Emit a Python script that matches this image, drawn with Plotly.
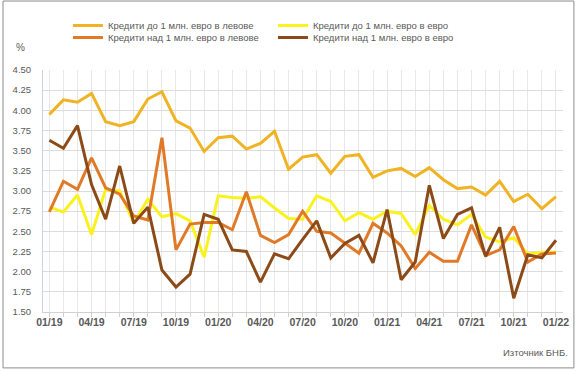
import plotly.graph_objects as go

months = ["01/19","02/19","03/19","04/19","05/19","06/19","07/19","08/19","09/19","10/19","11/19","12/19",
          "01/20","02/20","03/20","04/20","05/20","06/20","07/20","08/20","09/20","10/20","11/20","12/20",
          "01/21","02/21","03/21","04/21","05/21","06/21","07/21","08/21","09/21","10/21","11/21","12/21",
          "01/22"]

loans_small_bgn = [3.95, 4.13, 4.10, 4.21, 3.86, 3.81, 3.86, 4.14, 4.23, 3.87, 3.78, 3.49,
                   3.66, 3.68, 3.52, 3.59, 3.74, 3.27, 3.42, 3.45, 3.22, 3.43, 3.45, 3.17,
                   3.25, 3.28, 3.18, 3.29, 3.14, 3.03, 3.05, 2.95, 3.12, 2.87, 2.96, 2.78,
                   2.93]
loans_small_eur = [2.80, 2.74, 2.95, 2.46, 3.02, 3.00, 2.60, 2.90, 2.68, 2.72, 2.63, 2.18,
                   2.94, 2.92, 2.91, 2.93, 2.79, 2.66, 2.65, 2.94, 2.87, 2.63, 2.73, 2.65,
                   2.75, 2.72, 2.46, 2.82, 2.65, 2.58, 2.71, 2.43, 2.37, 2.42, 2.22, 2.24,
                   2.24]
loans_large_bgn = [2.74, 3.12, 3.02, 3.41, 3.04, 2.96, 2.69, 2.64, 3.66, 2.27, 2.59, 2.61,
                   2.61, 2.52, 2.99, 2.45, 2.36, 2.46, 2.75, 2.50, 2.48, 2.35, 2.23, 2.60,
                   2.48, 2.32, 2.04, 2.24, 2.13, 2.13, 2.58, 2.20, 2.27, 2.56, 2.12, 2.22,
                   2.23]
loans_large_eur = [3.63, 3.53, 3.81, 3.08, 2.65, 3.31, 2.60, 2.80, 2.02, 1.81, 1.97, 2.71,
                   2.65, 2.27, 2.25, 1.87, 2.22, 2.16, 2.40, 2.63, 2.17, 2.35, 2.45, 2.11,
                   2.77, 1.90, 2.12, 3.07, 2.41, 2.71, 2.79, 2.19, 2.55, 1.67, 2.21, 2.17,
                   2.39]

series_names = ["Кредити до 1 млн. евро в левове", "Кредити до 1 млн. евро в евро",
                "Кредити над 1 млн. евро в левове", "Кредити над 1 млн. евро в евро"]
series_values = [loans_small_bgn, loans_small_eur, loans_large_bgn, loans_large_eur]
colors = ["#F0B323", "#F9F21E", "#E07A28", "#8B4A17"]
legend_rows = ["legend", "legend", "legend2", "legend2"]

x_idx = list(range(len(months)))
label_idx = [i for i in x_idx if i % 3 == 0]
label_text = [months[i] for i in label_idx]
y_ticks = [1.5 + 0.25 * i for i in range(13)]

fig = go.Figure()
for name, vals, col, lg in zip(series_names, series_values, colors, legend_rows):
    fig.add_trace(go.Scatter(x=x_idx, y=vals, name=name, mode="lines", legend=lg,
                             line=dict(color=col, width=3)))

legend_common = dict(orientation="h", x=0.048, xanchor="left", yanchor="top",
                     yref="container", entrywidth=160, entrywidthmode="pixels",
                     font=dict(size=9.5, color="#595959"), bgcolor="rgba(0,0,0,0)")

fig.update_layout(
    width=578, height=371,
    margin=dict(l=43, r=15, t=70, b=59),
    paper_bgcolor="white", plot_bgcolor="white",
    font=dict(family="Liberation Sans", size=10, color="#595959"),
    showlegend=True,
    legend=dict(y=1 - 11 / 371, **legend_common),
    legend2=dict(y=1 - 23 / 371, **legend_common),
    xaxis=dict(range=[-0.45, 36.5], tickmode="array", tickvals=label_idx, ticktext=label_text,
               showgrid=True, gridcolor="#e8e8e8", gridwidth=1, ticks="",
               minor=dict(tickmode="array", tickvals=x_idx, ticks="outside", ticklen=4,
                          tickcolor="#d0d0d0", showgrid=True, gridcolor="#e8e8e8"),
               showline=True, linecolor="#d0d0d0", linewidth=1,
               tickfont=dict(size=10.5, color="#595959", family="Liberation Sans", weight="bold"),
               zeroline=False, fixedrange=True, automargin=False),
    yaxis=dict(range=[1.5, 4.5], tickmode="array", tickvals=y_ticks,
               ticktext=[f"{v:.2f}" for v in y_ticks],
               showgrid=True, gridcolor="#dcdcdc", gridwidth=1,
               showline=True, linecolor="#c8d4e6", linewidth=1,
               ticks="", ticklabelstandoff=9,
               tickfont=dict(size=9.5, color="#595959"),
               zeroline=False, fixedrange=True, automargin=False),
    annotations=[
        dict(text="%", xref="paper", yref="paper", x=-0.044, y=1.095, showarrow=False,
             xanchor="center", yanchor="middle", font=dict(size=10, color="#595959")),
        dict(text="Източник БНБ.", xref="paper", yref="paper", x=1.013, y=-0.169,
             showarrow=False, xanchor="right", yanchor="middle",
             font=dict(size=9.5, color="#595959")),
    ],
    shapes=[dict(type="rect", xref="paper", yref="paper",
                 x0=-0.0769, x1=1.021, y0=-0.231, y1=1.285,
                 line=dict(color="#8c8c8c", width=1), fillcolor="rgba(0,0,0,0)")],
)

fig.write_html("out.html", config={"displayModeBar": False},
               post_script="document.body.style.margin='0';document.body.style.padding='0';")
